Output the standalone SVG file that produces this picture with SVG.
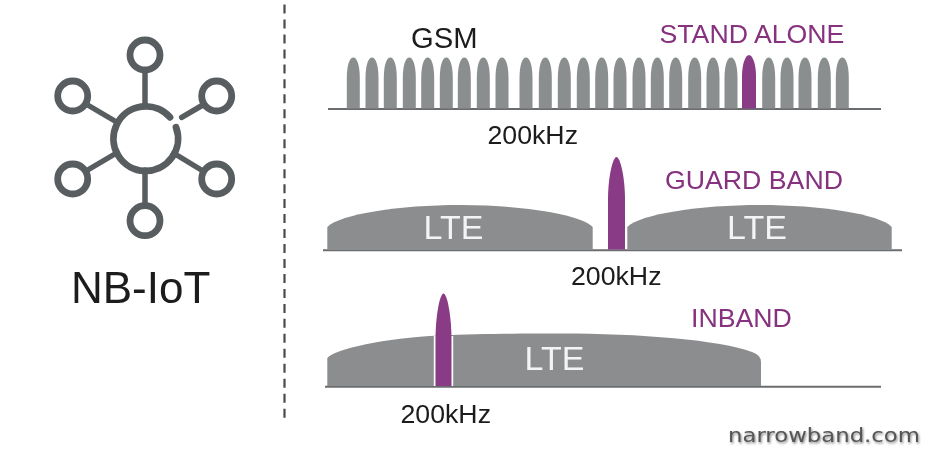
<svg xmlns="http://www.w3.org/2000/svg" width="930" height="468" viewBox="0 0 930 468">
<style>
text{font-family:"Liberation Sans",Arial,sans-serif}
.k{fill:#1a1a1a;font-size:26.7px}
.p{fill:#86307f;font-size:26.7px}
.w{fill:#f4f4f4;font-size:34px;text-anchor:middle}
.g{fill:#8b8e8f}
.l{fill:#8c8d8f}
.v{fill:#8a3a85}
.b{stroke:#6b6d6f;stroke-width:2;fill:none}
.i{stroke:#585d61;stroke-width:6.8;fill:none}
.s{stroke:#585d61;stroke-width:5.5;fill:none;stroke-linecap:round}
</style>
<defs>
<path id="bar" d="M-6.500 0V-30C-6.500-44-3.500-51 0-51C3.500-51 6.500-44 6.500-30V0Z"/>
<filter id="sh" x="-5%" y="-30%" width="110%" height="170%"><feDropShadow dx="1" dy="1.5" stdDeviation="1.2" flood-color="#333" flood-opacity=".6"/></filter>
<filter id="soft"><feGaussianBlur stdDeviation="0.45"/></filter>
</defs>
<rect width="930" height="468" fill="#fff"/>
<g id="divider"><path d="M284.500 4.500V418" stroke="#4a4a4a" stroke-width="2.200" stroke-dasharray="9 5.970" fill="none"/></g>
<g id="nb-iot" filter="url(#soft)">
<path class="i" d="M170 117.300A32.300 32.300 0 1 0 176 127.300" stroke-linecap="round"/>
<g class="i"><circle cx="145" cy="55" r="15"/><circle cx="72.700" cy="96" r="15"/><circle cx="216.700" cy="96" r="15"/><circle cx="72.700" cy="179" r="15"/><circle cx="216.700" cy="179" r="15"/><circle cx="145" cy="220.700" r="15"/></g>
<path class="s" d="M145 70V104M86 104L114 120.500M86 171L114 154.500M181.700 117.300L202 105.500M175 154L203 171M145 170V205"/>
<text x="71" y="303.300" font-size="44" fill="#1a1a1a">NB-IoT</text>
</g>
<g id="gsm" filter="url(#soft)">
<path class="b" d="M328 109H881"/>
<g class="g">
<use href="#bar" x="353.300" y="108.500"/><use href="#bar" x="372" y="108.500"/><use href="#bar" x="390.300" y="108.500"/><use href="#bar" x="409.300" y="108.500"/><use href="#bar" x="427.700" y="108.500"/><use href="#bar" x="446.300" y="108.500"/><use href="#bar" x="464.300" y="108.500"/><use href="#bar" x="483.300" y="108.500"/><use href="#bar" x="502" y="108.500"/><use href="#bar" x="526" y="108.500"/><use href="#bar" x="545.300" y="108.500"/><use href="#bar" x="564.300" y="108.500"/><use href="#bar" x="583.300" y="108.500"/><use href="#bar" x="601.700" y="108.500"/><use href="#bar" x="620" y="108.500"/><use href="#bar" x="639" y="108.500"/><use href="#bar" x="657.300" y="108.500"/><use href="#bar" x="675.700" y="108.500"/><use href="#bar" x="694.700" y="108.500"/><use href="#bar" x="713" y="108.500"/><use href="#bar" x="731" y="108.500"/><use href="#bar" x="768.700" y="108.500"/><use href="#bar" x="787" y="108.500"/><use href="#bar" x="805" y="108.500"/><use href="#bar" x="824.300" y="108.500"/><use href="#bar" x="842.300" y="108.500"/>
</g>
<path class="v" d="M742 108.500V76C742 64 745.500 55 749 55C752.500 55 756 64 756 76V108.500Z"/>
<text x="411" y="47.700" font-size="29.200" fill="#1a1a1a">GSM</text>
<text class="p" x="659.500" y="42.700">STAND ALONE</text>
<text class="k" x="487.500" y="144">200kHz</text>
</g>
<g id="guard" filter="url(#soft)">
<path class="b" d="M323 250.300H902"/>
<path class="l" d="M327.300 249.500V227C340 214 400 205 460 205C520 205 580 214 592.700 227V249.500Z"/>
<path class="l" d="M627.300 249.500V227C640 214 700 205 760 205C820 205 880 214 891.700 227V249.500Z"/>
<path class="v" d="M608 249.500V200C608 176 613 157 616.500 157C620 157 625 176 625 200V249.500Z"/>
<text class="w" x="453.500" y="239.300">LTE</text>
<text class="w" x="757" y="239.300">LTE</text>
<text class="p" x="665" y="189">GUARD BAND</text>
<text class="k" x="571" y="285">200kHz</text>
</g>
<g id="inband" filter="url(#soft)">
<path class="b" d="M325 386.700H881"/>
<path class="l" d="M327.300 386V358C335 349 385 338 440 335.500C480 333.500 530 333.500 560 333.500C640 333.500 720 340 752 352Q761 355 761 362V386Z"/>
<path d="M433.800 386V336H453.200V386Z" fill="#fff"/>
<path class="v" d="M435.500 386V340C435.500 315 440 293.500 443.500 293.500C447 293.500 451.500 315 451.500 340V386Z"/>
<text class="w" x="554.500" y="370">LTE</text>
<text class="p" x="691" y="326.700">INBAND</text>
<text class="k" x="400.500" y="422.700">200kHz</text>
</g>
<g id="watermark"><text x="728" y="441.700" textLength="192" lengthAdjust="spacingAndGlyphs" style="font-family:'DejaVu Sans',sans-serif;font-size:20px" fill="#555" filter="url(#sh)">narrowband.com</text></g>
</svg>
